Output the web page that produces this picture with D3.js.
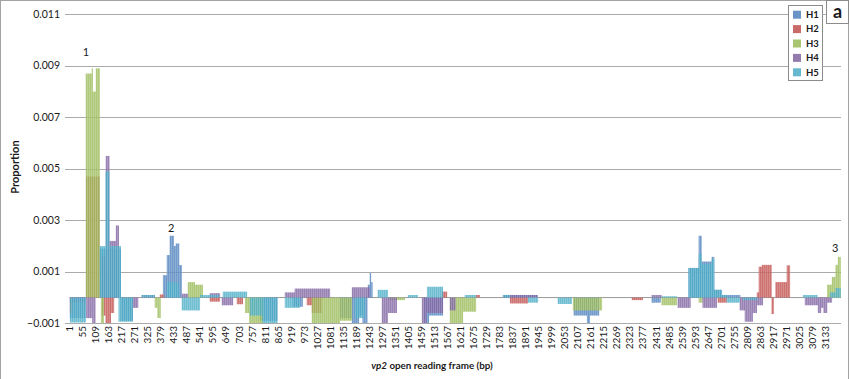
<!DOCTYPE html>
<html>
<head>
<meta charset="utf-8">
<script src="https://cdn.jsdelivr.net/npm/d3@7"></script>
<style>
  body { margin: 0; background: #fff; }
  text { font-family: Lato, "Open Sans", sans-serif; fill: #1a1a1a; }
</style>
</head>
<body>
<svg id="chart" width="851" height="379"></svg>
<script>
// series names and Excel-style colours
const series = ["H1", "H2", "H3", "H4", "H5"]
const colors = ["#4F81BD", "#C0504D", "#9BBB59", "#8064A2", "#4BACC6"]

// each series as runs of [start bp, end bp, proportion]
const h1 = [
  [2, 68, -0.0008], [126, 213, 0.0019], [213, 263, -0.0009],
  [388, 404, 0.00087], [404, 416, 0.00165], [416, 433, 0.0024], [433, 441, 0.002],
  [441, 455, 0.0021], [455, 466, 0.00126],
  [790, 862, -0.0009], [926, 967, -0.00036],
  [1121, 1171, -0.0008], [1171, 1200, -0.001], [1200, 1215, -0.0007], [1215, 1235, -0.001],
  [1237, 1245, 0.0005], [1245, 1250, 0.00095], [1250, 1256, 0.0006],
  [1470, 1490, -0.001], [1490, 1548, -0.0007],
  [1797, 1940, 0.0001],
  [2090, 2145, -0.0007], [2145, 2157, -0.001], [2157, 2195, -0.0007],
  [2413, 2450, -0.0002],
  [2566, 2608, 0.00115], [2608, 2620, 0.0024], [2620, 2662, 0.0014], [2662, 2672, 0.00158],
  [2672, 2704, 0.0003], [2704, 2780, 0.0001]
]
const h2 = [
  [2, 11, -0.0006], [70, 126, 0.0047],
  [135, 150, -0.0007], [150, 172, -0.001], [172, 185, -0.0006],
  [375, 392, 0.00012], [582, 624, -0.00016], [694, 719, -0.00026],
  [984, 1005, -0.0003], [1005, 1046, -0.0006],
  [1544, 1565, 0.00023], [1685, 1701, 0.0001], [1826, 1900, -0.00023],
  [2331, 2376, -0.0001], [2687, 2724, -0.0002],
  [2849, 2857, 0.0002], [2857, 2870, 0.0012], [2870, 2910, 0.00127],
  [2910, 2919, -0.00064], [2926, 2973, 0.0006], [2973, 2986, 0.00125]
]
const h3 = [
  [68, 93, 0.0087], [93, 97, 0.0089], [97, 110, 0.008], [110, 126, 0.0089],
  [131, 143, -0.001], [354, 365, -0.0004], [365, 378, -0.0008],
  [491, 520, 0.0006], [520, 553, 0.0005],
  [728, 745, -0.0006], [745, 802, -0.001],
  [1005, 1121, -0.001], [1121, 1171, -0.0009], [1328, 1390, -0.0001],
  [1577, 1631, -0.001], [1631, 1685, -0.00055],
  [2087, 2207, -0.0005], [2454, 2517, -0.0003], [2608, 2624, -0.0002],
  [3140, 3160, 0.0005], [3160, 3175, 0.0008], [3175, 3185, 0.00127], [3185, 3196, 0.00158]
]
const h4 = [
  [2, 68, -0.0002], [70, 95, -0.0008], [95, 108, -0.001],
  [131, 151, 0.0016], [151, 166, 0.0055], [166, 193, 0.0022], [193, 205, 0.0028],
  [264, 285, -0.0004], [300, 354, 0.0001], [466, 491, 0.00015],
  [582, 624, 0.00017], [632, 678, -0.0003],
  [893, 934, 0.0002], [934, 1080, 0.00035], [1171, 1245, 0.0004],
  [1295, 1320, -0.001], [1320, 1357, -0.0006],
  [1461, 1480, -0.001], [1480, 1548, -0.0006], [1577, 1600, -0.0005],
  [1797, 1940, 0.0001], [2413, 2454, 0.0001],
  [2521, 2574, -0.0004], [2624, 2683, -0.0004],
  [2778, 2799, -0.0005], [2799, 2832, -0.00094], [2832, 2849, -0.0006], [2849, 2874, -0.0003],
  [3048, 3102, -0.0003], [3102, 3115, -0.0006], [3115, 3125, -0.0004], [3125, 3140, -0.0006],
  [3140, 3160, -0.0002]
]
const h5 = [
  [2, 68, -0.00097], [126, 150, 0.002], [150, 166, 0.0049], [166, 213, 0.002],
  [204, 263, -0.00094], [300, 354, 0.0001], [404, 455, 0.0006],
  [466, 541, -0.0005], [541, 620, 0.0001], [636, 736, 0.00023],
  [748, 800, -0.0007], [800, 862, -0.001], [893, 955, -0.0004],
  [1183, 1225, -0.0008], [1278, 1320, 0.0003], [1403, 1444, 0.0001],
  [1482, 1548, 0.00042], [1639, 1685, 0.0001],
  [1797, 1826, 0.0001], [1900, 1942, -0.0002], [2024, 2082, -0.00025],
  [2454, 2517, 0.00005],
  [2566, 2608, 0.00115], [2608, 2620, 0.0017], [2620, 2662, 0.0013], [2662, 2672, 0.0015],
  [2672, 2704, 0.0003], [2704, 2724, 0.0001], [2724, 2778, -0.0002], [2790, 2850, -0.0001],
  [3040, 3100, 0.0001], [3152, 3175, 0.0002], [3175, 3196, 0.00037]
]
const runs = [h1, h2, h3, h4, h5]

const yTicks = [-0.001, 0.001, 0.003, 0.005, 0.007, 0.009, 0.011]
const xTicks = [1, 55, 109, 163, 217, 271, 325, 379, 433, 487, 541, 595, 649, 703, 757,
  811, 865, 919, 973, 1027, 1081, 1135, 1189, 1243, 1297, 1351, 1405, 1459, 1513, 1567,
  1621, 1675, 1729, 1783, 1837, 1891, 1945, 1999, 2053, 2107, 2161, 2215, 2269, 2323,
  2377, 2431, 2485, 2539, 2593, 2647, 2701, 2755, 2809, 2863, 2917, 2971, 3025, 3079, 3133]

// numbered peak labels
const peaks = [
  {label: "1", bp: 69, value: 0.00953},
  {label: "2", bp: 422, value: 0.00271},
  {label: "3", bp: 3173, value: 0.0019}
]

let margins = {left: 69.5, right: 10, top: 14.3, bottom: 55.7},
  width = 851, height = 379;

let svg = d3.select("#chart")
let x = d3.scaleLinear().domain([0.5, 3197.5]).range([margins.left, width - margins.right]),
  y = d3.scaleLinear().domain([-0.001, 0.011]).range([height - margins.bottom, margins.top]);

// striped fills, so the runs read as packed thin columns
let defs = svg.append("defs")
colors.forEach((c, i) => {
  let p = defs.append("pattern").attr("id", "fill" + i)
    .attr("patternUnits", "userSpaceOnUse").attr("width", 2).attr("height", 8)
  p.append("rect").attr("width", 2).attr("height", 8).attr("fill", c).attr("opacity", 0.8)
  p.append("rect").attr("x", 1.4).attr("width", 0.6).attr("height", 8).attr("fill", "#fff").attr("opacity", 0.3)
})

// outer frame
svg.append("rect")
  .attr("x", 0.5).attr("y", 0.5).attr("width", 848).attr("height", 400)
  .attr("fill", "none").attr("stroke", "#a3a3a3")

// gridlines + y labels
svg.append("g").selectAll("line").data(yTicks).enter()
  .append("line")
  .attr("x1", 65).attr("x2", x.range()[1])
  .attr("y1", d => Math.round(y(d)) + 0.5).attr("y2", d => Math.round(y(d)) + 0.5)
  .attr("stroke", "#ababab")
svg.append("g").selectAll("text").data(yTicks).enter()
  .append("text")
  .attr("x", 60).attr("y", d => y(d)).attr("dy", "0.35em")
  .attr("text-anchor", "end").style("font-size", "10.5px")
  .text(d => d3.format(".3f")(d))

// zero axis
svg.append("line")
  .attr("x1", x.range()[0]).attr("x2", x.range()[1])
  .attr("y1", y(0)).attr("y2", y(0))
  .attr("stroke", "#9a9a9a")

svg.append("clipPath").attr("id", "plot")
  .append("rect")
  .attr("x", x.range()[0]).attr("y", y.range()[1])
  .attr("width", x.range()[1] - x.range()[0]).attr("height", y.range()[0] - y.range()[1])

let bars = svg.append("g").attr("clip-path", "url(#plot)")
runs.forEach((rs, i) => {
  bars.append("g").selectAll("rect").data(rs).enter()
    .append("rect")
    .attr("x", d => x(d[0] - 0.5))
    .attr("width", d => x(d[1] + 0.5) - x(d[0] - 0.5))
    .attr("y", d => y(Math.max(d[2], 0)))
    .attr("height", d => Math.abs(y(d[2]) - y(0)))
    .attr("fill", `url(#fill${i})`)
})

// category labels
svg.append("g").selectAll("text").data(xTicks).enter()
  .append("text")
  .attr("transform", d => `translate(${x(d)}, 326)rotate(-90)`)
  .attr("dy", "0.35em").attr("text-anchor", "end")
  .style("font-size", "10px")
  .text(d => d)

svg.append("g").selectAll("text").data(peaks).enter()
  .append("text")
  .attr("x", d => x(d.bp)).attr("y", d => y(d.value)).attr("dy", "0.35em")
  .attr("text-anchor", "middle").style("font-size", "11px")
  .text(d => d.label)

// axis titles
svg.append("text")
  .attr("transform", "translate(15, 167)rotate(-90)")
  .attr("text-anchor", "middle").attr("dy", "0.35em")
  .style("font-size", "11px").style("font-weight", "bold")
  .text("Proportion")
let xt = svg.append("text")
  .attr("x", 432).attr("y", 366).attr("dy", "0.35em")
  .attr("text-anchor", "middle")
  .style("font-size", "9.8px").style("font-weight", "bold")
xt.append("tspan").style("font-style", "italic").text("vp2")
xt.append("tspan").text(" open reading frame (bp)")

// legend
let legend = svg.append("g")
legend.append("rect")
  .attr("x", 788.5).attr("y", 5.5).attr("width", 34).attr("height", 75)
  .attr("fill", "#fff").attr("stroke", "#8c8c8c")
let items = legend.selectAll("g").data(series).enter()
  .append("g")
  .attr("transform", (d, i) => `translate(793, ${14.7 + i * 14.4})`)
items.append("rect")
  .attr("x", 0).attr("y", -4).attr("width", 8).attr("height", 8)
  .attr("fill", (d, i) => colors[i]).attr("fill-opacity", 0.85)
items.append("text")
  .attr("x", 13).attr("dy", "0.35em")
  .style("font-size", "9.5px").style("font-weight", "bold")
  .text(d => d)

// panel letter
svg.append("rect")
  .attr("x", 826.5).attr("y", 0.5).attr("width", 22).attr("height", 23)
  .attr("fill", "#fff").attr("stroke", "#8c8c8c")
svg.append("text")
  .attr("x", 837.5).attr("y", 18).attr("text-anchor", "middle")
  .style("font-size", "18px").style("font-weight", "bold")
  .text("a")
</script>
</body>
</html>
